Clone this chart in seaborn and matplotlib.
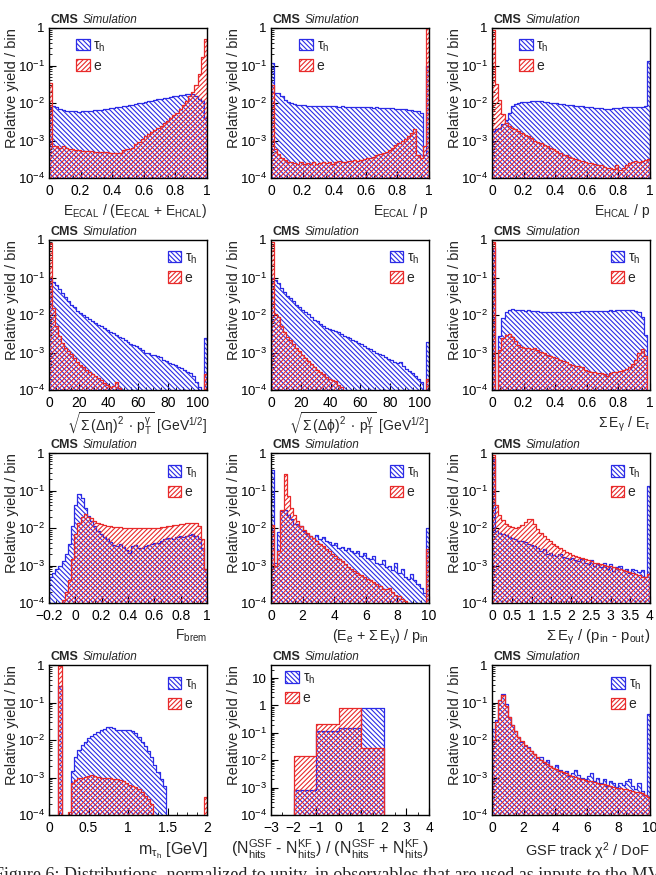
import numpy as np
import pandas as pd
import matplotlib
matplotlib.use('Agg')
import matplotlib.pyplot as plt
from matplotlib.patches import Patch
from matplotlib.ticker import FixedLocator, FuncFormatter, LogLocator, NullFormatter, AutoMinorLocator
import seaborn as sns

# ---- data: relative yield per bin (tau_h = blue, e = red) ----

# E_ECAL / (E_ECAL + E_HCAL), 50 bins in [0, 1]
ecalfrac_tau = [7.5e-3, 8.2e-3, 7.6e-3, 7.0e-3, 6.5e-3, 6.3e-3, 6.2e-3, 6.0e-3, 6.0e-3, 5.9e-3,
                6.0e-3, 6.1e-3, 6.2e-3, 6.3e-3, 6.4e-3, 6.5e-3, 6.7e-3, 6.9e-3, 7.1e-3, 7.3e-3,
                7.5e-3, 7.7e-3, 7.9e-3, 8.1e-3, 8.4e-3, 8.7e-3, 9.0e-3, 9.3e-3, 9.7e-3, 1.0e-2,
                1.05e-2, 1.1e-2, 1.15e-2, 1.2e-2, 1.25e-2, 1.3e-2, 1.35e-2, 1.4e-2, 1.45e-2, 1.5e-2,
                1.55e-2, 1.6e-2, 1.65e-2, 1.7e-2, 1.75e-2, 1.7e-2, 1.5e-2, 1.3e-2, 1.1e-2, 4e-3]
ecalfrac_e = [3.5e-2, 7e-4, 7e-4, 6.5e-4, 7e-4, 6.5e-4, 6e-4, 5.8e-4, 5.5e-4, 5.5e-4,
              5.3e-4, 5.2e-4, 5.3e-4, 5.1e-4, 5e-4, 5e-4, 4.9e-4, 4.8e-4, 4.8e-4, 4.7e-4,
              4.6e-4, 4.7e-4, 4.6e-4, 5.5e-4, 6e-4, 5.8e-4, 6.5e-4, 8e-4, 9e-4, 1.1e-3,
              1.3e-3, 1.5e-3, 1.7e-3, 1.9e-3, 2.2e-3, 2.5e-3, 2.9e-3, 3.3e-3, 3.9e-3, 4.8e-3,
              5.5e-3, 6.8e-3, 9e-3, 1.15e-2, 1.5e-2, 2e-2, 3e-2, 6e-2, 1.7e-1, 5e-1]

# E_ECAL / p
ecalp_tau = [1.2e-1, 1.8e-2, 1.9e-2, 1.5e-2, 1.2e-2, 1.05e-2, 9.8e-3, 9.2e-3, 9.0e-3, 8.8e-3,
             8.7e-3, 8.5e-3, 8.4e-3, 8.5e-3, 8.3e-3, 8.4e-3, 8.2e-3, 8.3e-3, 8.1e-3, 8.2e-3,
             8.1e-3, 8.0e-3, 8.2e-3, 8.0e-3, 7.9e-3, 8.0e-3, 7.8e-3, 7.9e-3, 7.7e-3, 7.8e-3,
             7.6e-3, 7.7e-3, 7.5e-3, 7.6e-3, 7.4e-3, 7.5e-3, 7.3e-3, 7.4e-3, 7.2e-3, 7.1e-3,
             7.0e-3, 6.9e-3, 6.8e-3, 6.6e-3, 6.5e-3, 6.3e-3, 6.1e-3, 5.5e-3, 4e-4, 1e-1]
ecalp_e = [3e-2, 6e-4, 4.5e-4, 3.5e-4, 3e-4, 2.7e-4, 2.6e-4, 2.5e-4, 2.4e-4, 2.6e-4,
           2.4e-4, 2.5e-4, 2.3e-4, 2.6e-4, 2.4e-4, 2.5e-4, 2.7e-4, 2.5e-4, 2.6e-4, 2.4e-4,
           2.6e-4, 2.8e-4, 2.6e-4, 2.7e-4, 2.9e-4, 2.8e-4, 3e-4, 2.9e-4, 3e-4, 3.2e-4,
           3.4e-4, 3.5e-4, 3.7e-4, 4e-4, 4.3e-4, 4.6e-4, 5e-4, 5.6e-4, 6.5e-4, 7.5e-4,
           8.5e-4, 1e-3, 1.1e-3, 1.3e-3, 1.6e-3, 2e-3, 4e-4, 3.5e-4, 7e-4, 1.0]

# E_HCAL / p
hcalp_tau = [1.8e-3, 2e-3, 2.2e-3, 2.8e-3, 3.5e-3, 5.5e-3, 8.3e-3, 9.5e-3, 1e-2, 1.05e-2,
             1.05e-2, 1.08e-2, 1.1e-2, 1.1e-2, 1.1e-2, 1.1e-2, 1.08e-2, 1.05e-2, 1.02e-2, 1e-2,
             9.7e-3, 9.5e-3, 9.3e-3, 9.1e-3, 8.9e-3, 8.6e-3, 8.5e-3, 8.3e-3, 8.2e-3, 8e-3,
             7.8e-3, 7.6e-3, 7.5e-3, 7.3e-3, 7.2e-3, 7e-3, 7e-3, 7.1e-3, 7.2e-3, 7.3e-3,
             7.5e-3, 7.6e-3, 7.7e-3, 7.8e-3, 7.8e-3, 7.9e-3, 8e-3, 8e-3, 8.1e-3, 1.3e-1]
hcalp_e = [9e-1, 3.2e-2, 1.2e-2, 5e-3, 3e-3, 2.5e-3, 2.2e-3, 2e-3, 1.8e-3, 1.6e-3,
           1.4e-3, 1.3e-3, 1.15e-3, 1e-3, 9e-4, 8.5e-4, 7.5e-4, 7e-4, 6.5e-4, 6e-4,
           5.2e-4, 4.6e-4, 4.2e-4, 4e-4, 3.7e-4, 3.5e-4, 3.3e-4, 3e-4, 2.9e-4, 2.7e-4,
           2.5e-4, 2.5e-4, 2.3e-4, 2.2e-4, 2.2e-4, 2e-4, 1.9e-4, 1.8e-4, 1.7e-4, 2.2e-4,
           1.6e-4, 1.9e-4, 2.2e-4, 2.5e-4, 2.6e-4, 2.8e-4, 2.7e-4, 2.8e-4, 3e-4, 3.2e-4]

# sqrt(sum (d eta)^2 pT), 53 bins of 2 GeV^1/2 (last one = overflow)
deta_tau = [9e-2, 7.5e-2, 6.5e-2, 5e-2, 3.8e-2, 3e-2, 2.4e-2, 1.9e-2, 1.6e-2, 1.3e-2,
            1.15e-2, 1e-2, 9e-3, 7.8e-3, 6.8e-3, 6e-3, 5.5e-3, 5.1e-3, 4.5e-3, 4e-3,
            3.6e-3, 3.3e-3, 2.9e-3, 2.6e-3, 2.4e-3, 2.2e-3, 1.9e-3, 1.7e-3, 1.6e-3, 1.45e-3,
            1.3e-3, 1.15e-3, 1e-3, 9.5e-4, 8.8e-4, 8.5e-4, 8e-4, 7.5e-4, 6.5e-4, 5.8e-4,
            5.4e-4, 5e-4, 4.6e-4, 4.2e-4, 3.8e-4, 3.5e-4, 3.1e-4, 2.8e-4, 2.4e-4, 1.6e-4,
            1.2e-4, 0, 2.4e-3]
deta_e = [8.5e-1, 1.5e-2, 5e-3, 2.8e-3, 1.8e-3, 1.35e-3, 1.1e-3, 9e-4, 7e-4, 5.6e-4,
          4.6e-4, 4e-4, 3.4e-4, 3e-4, 2.6e-4, 2.4e-4, 2.1e-4, 1.9e-4, 1.5e-4, 1.4e-4,
          1.2e-4, 1.3e-4, 1.6e-4, 1.1e-4, 8e-5, 7e-5, 6e-5, 5e-5, 4e-5, 3e-5,
          0, 0, 0, 0, 0, 0, 0, 0, 0, 0,
          0, 0, 0, 0, 0, 0, 0, 0, 0, 0,
          0, 0, 2.7e-4]

# sqrt(sum (d phi)^2 pT)
dphi_tau = [1e-1, 8.5e-2, 7e-2, 5.2e-2, 4e-2, 3.3e-2, 2.8e-2, 2.4e-2, 1.9e-2, 1.6e-2,
            1.4e-2, 1.2e-2, 1.05e-2, 9e-3, 7.5e-3, 6.8e-3, 5.8e-3, 5.2e-3, 4.6e-3, 4.3e-3,
            4e-3, 3.7e-3, 3.5e-3, 3.1e-3, 2.8e-3, 2.6e-3, 2.4e-3, 2.2e-3, 2e-3, 1.8e-3,
            1.7e-3, 1.5e-3, 1.35e-3, 1.25e-3, 1.1e-3, 1e-3, 9e-4, 8.5e-4, 7.5e-4, 6.8e-4,
            6.2e-4, 5.5e-4, 5.2e-4, 5.6e-4, 4.5e-4, 3.6e-4, 3.2e-4, 2.8e-4, 2.3e-4, 2e-4,
            1.6e-4, 0, 1.9e-3]
dphi_e = [9e-1, 1.05e-2, 8.6e-3, 5.2e-3, 3.5e-3, 2.6e-3, 2.1e-3, 1.7e-3, 1.35e-3, 1.1e-3,
          8.5e-4, 7.2e-4, 5.8e-4, 5e-4, 4.2e-4, 3.5e-4, 3.1e-4, 2.6e-4, 2.2e-4, 2e-4,
          1.8e-4, 1.7e-4, 1.4e-4, 1.2e-4, 8e-5, 6e-5, 5e-5, 4e-5, 3e-5, 0,
          0, 0, 0, 0, 0, 0, 0, 0, 0, 0,
          0, 0, 0, 0, 0, 0, 0, 0, 0, 0,
          0, 0, 2e-4]

# sum E_gamma / E_tau
egfrac_tau = [6e-1, 0, 2.8e-3, 8.5e-3, 1.2e-2, 1.4e-2, 1.45e-2, 1.4e-2, 1.4e-2, 1.35e-2,
              1.3e-2, 1.32e-2, 1.3e-2, 1.28e-2, 1.25e-2, 1.22e-2, 1.2e-2, 1.22e-2, 1.2e-2, 1.19e-2,
              1.2e-2, 1.18e-2, 1.19e-2, 1.2e-2, 1.19e-2, 1.21e-2, 1.2e-2, 1.22e-2, 1.24e-2, 1.26e-2,
              1.25e-2, 1.27e-2, 1.3e-2, 1.28e-2, 1.26e-2, 1.28e-2, 1.3e-2, 1.33e-2, 1.31e-2, 1.33e-2,
              1.36e-2, 1.34e-2, 1.33e-2, 1.35e-2, 1.33e-2, 1.3e-2, 1.2e-2, 9e-3, 3e-3, 0]
egfrac_e = [9e-1, 0, 1.2e-3, 2.5e-3, 3e-3, 3.1e-3, 2.6e-3, 2e-3, 1.6e-3, 1.4e-3,
            1.3e-3, 1.3e-3, 1.25e-3, 1.3e-3, 1.15e-3, 1.05e-3, 9.5e-4, 8.5e-4, 8e-4, 7.5e-4,
            7e-4, 6.5e-4, 6e-4, 5.5e-4, 5e-4, 4.6e-4, 4.5e-4, 4.3e-4, 4.2e-4, 3.5e-4,
            3.2e-4, 3e-4, 3e-4, 2.9e-4, 2.8e-4, 2.6e-4, 2.4e-4, 2.8e-4, 3e-4, 3.1e-4,
            3.2e-4, 3.4e-4, 3.6e-4, 4e-4, 5e-4, 6.5e-4, 1e-3, 1.25e-3, 8e-4, 0]

# F_brem, 50 bins in [-0.2, 1]
fbrem_tau = [5e-4, 6.5e-4, 8e-4, 9.5e-4, 1.3e-3, 2e-3, 3.8e-3, 1.1e-2, 4e-2, 8e-2,
             6.2e-2, 3.4e-2, 2.1e-2, 1.5e-2, 1.1e-2, 8.5e-3, 6.8e-3, 5.8e-3, 5e-3, 4.2e-3,
             3.5e-3, 3.3e-3, 3.8e-3, 3.2e-3, 2.6e-3, 2.2e-3, 3.3e-3, 3.5e-3, 3e-3, 2.9e-3,
             3.3e-3, 3.6e-3, 3.8e-3, 4e-3, 4.1e-3, 4.5e-3, 5e-3, 5.3e-3, 5.5e-3, 5.2e-3,
             5.8e-3, 6.2e-3, 5.9e-3, 6e-3, 6.5e-3, 6.8e-3, 6e-3, 5e-3, 3e-3, 8e-4]
fbrem_e = [0, 0, 5e-5, 9e-5, 1.2e-4, 2e-4, 4e-4, 1.5e-3, 7e-3, 1.4e-2,
           2e-2, 2.3e-2, 2e-2, 1.8e-2, 1.5e-2, 1.35e-2, 1.25e-2, 1.2e-2, 1.15e-2, 1.1e-2,
           1.08e-2, 1.06e-2, 1.04e-2, 1.02e-2, 1.01e-2, 1e-2, 9.9e-3, 9.8e-3, 9.7e-3, 9.7e-3,
           9.8e-3, 9.9e-3, 1e-2, 1.01e-2, 1.03e-2, 1.05e-2, 1.07e-2, 1.1e-2, 1.13e-2, 1.17e-2,
           1.2e-2, 1.25e-2, 1.3e-2, 1.33e-2, 1.37e-2, 1.4e-2, 1.35e-2, 1.1e-2, 5e-3, 8e-4]

# (E_e + sum E_gamma) / p_in, 50 bins in [0, 10]
eop_tau = [3.5e-1, 1.2e-3, 8e-3, 2.8e-2, 3e-2, 2.2e-2, 1.7e-2, 1.3e-2, 1.25e-2, 1.1e-2,
           8.5e-3, 7e-3, 6.2e-3, 5.5e-3, 6.5e-3, 5.2e-3, 5.8e-3, 4.6e-3, 4.2e-3, 3.5e-3,
           4e-3, 3e-3, 3.2e-3, 2.6e-3, 3e-3, 2.4e-3, 2.2e-3, 2.5e-3, 1.8e-3, 2.2e-3,
           1.6e-3, 1.5e-3, 1.8e-3, 1.2e-3, 1.1e-3, 1.4e-3, 9e-4, 1e-3, 7.5e-4, 1.2e-3,
           6.5e-4, 8e-4, 5e-4, 4.5e-4, 6e-4, 4e-4, 3.2e-4, 2.5e-4, 1.8e-4, 1e-2]
eop_e = [1.2e-2, 9.5e-4, 2.5e-3, 3e-2, 2.8e-1, 7e-2, 3.5e-2, 2.2e-2, 1.5e-2, 1.15e-2,
         9e-3, 7.5e-3, 6.3e-3, 5.3e-3, 4.5e-3, 3.8e-3, 3.3e-3, 2.8e-3, 2.4e-3, 2e-3,
         1.8e-3, 1.5e-3, 1.3e-3, 1.1e-3, 9e-4, 8e-4, 7e-4, 6.3e-4, 5.5e-4, 5e-4,
         4.5e-4, 4e-4, 3.6e-4, 3.2e-4, 2.8e-4, 2.4e-4, 2.3e-4, 2.5e-4, 2e-4, 1.6e-4,
         1.5e-4, 1.3e-4, 1.1e-4, 1e-4, 9e-5, 8e-5, 7e-5, 6e-5, 5e-5, 2.7e-3]

# sum E_gamma / (p_in - p_out), 50 bins in [0, 4]
egdp_tau = [7e-1, 8.5e-3, 7.5e-3, 7e-3, 6.5e-3, 5.8e-3, 5.5e-3, 5e-3, 4.5e-3, 4.6e-3,
            4.2e-3, 3.8e-3, 3.5e-3, 3.4e-3, 3e-3, 2.5e-3, 2.8e-3, 2e-3, 2.2e-3, 1.9e-3,
            1.8e-3, 2e-3, 1.7e-3, 1.6e-3, 1.5e-3, 1.6e-3, 1.4e-3, 1.3e-3, 1.5e-3, 1.2e-3,
            1.1e-3, 1.4e-3, 1e-3, 1.1e-3, 9e-4, 1.2e-3, 8e-4, 1.1e-3, 7e-4, 9e-4,
            1e-3, 7.5e-4, 8e-4, 6.5e-4, 8e-4, 7.5e-4, 6.8e-4, 7.5e-4, 5e-4, 1.3e-1]
egdp_e = [9e-1, 4e-2, 2.2e-2, 1.6e-2, 1.3e-2, 1.15e-2, 1.05e-2, 1e-2, 1.05e-2, 1.2e-2,
          1.45e-2, 1.75e-2, 1.7e-2, 1.3e-2, 9.5e-3, 7.5e-3, 6e-3, 5e-3, 4.4e-3, 3.8e-3,
          3.3e-3, 2.9e-3, 2.6e-3, 2.3e-3, 2.1e-3, 1.95e-3, 1.8e-3, 1.65e-3, 1.55e-3, 1.45e-3,
          1.4e-3, 1.3e-3, 1.2e-3, 1.15e-3, 1.1e-3, 1.05e-3, 1e-3, 9.5e-4, 9e-4, 8.5e-4,
          8e-4, 7.5e-4, 7.2e-4, 6.8e-4, 6.5e-4, 6e-4, 5.5e-4, 5e-4, 4.8e-4, 6e-4]

# m_tau_h [GeV], 50 bins in [0, 2]
mtau_tau = [0, 0, 0, 2.8e-1, 0, 0, 0, 1.5e-3, 3.5e-3, 5.5e-3,
            7.5e-3, 9e-3, 1.1e-2, 1.3e-2, 1.45e-2, 1.65e-2, 1.8e-2, 2e-2, 2.2e-2, 2.2e-2,
            2.1e-2, 1.9e-2, 1.9e-2, 1.9e-2, 1.85e-2, 1.8e-2, 1.7e-2, 1.55e-2, 1.2e-2, 9e-3,
            7e-3, 5e-3, 3.5e-3, 2.2e-3, 1.4e-3, 9e-4, 6e-4, 0, 0, 0,
            0, 0, 0, 0, 0, 0, 0, 0, 0, 0]
mtau_e = [0, 0, 0, 9.5e-1, 0, 0, 1.2e-4, 7e-4, 8.5e-4, 9.5e-4,
          1e-3, 1.05e-3, 1.1e-3, 1.15e-3, 1.1e-3, 1.05e-3, 1e-3, 1e-3, 9.5e-4, 9.5e-4,
          9e-4, 9.2e-4, 8.5e-4, 8e-4, 7e-4, 6.5e-4, 6e-4, 5.5e-4, 4.8e-4, 4e-4,
          3.3e-4, 2.7e-4, 2e-4, 0, 0, 0, 0, 0, 0, 0,
          0, 0, 0, 0, 0, 0, 0, 0, 0, 3e-4]

# (N_GSF - N_KF) / (N_GSF + N_KF), unit bins in [-3, 4]
nhits_tau = [0, 8e-4, 1.2e-1, 1.5e-1, 8e-1, 0, 0]
nhits_e = [0, 1.4e-2, 2.1e-1, 8e-1, 2.8e-2, 0, 0]

# GSF track chi2 / DoF, 50 bins in [0, 10]
chi2_tau = [2e-2, 3.5e-2, 1.2e-1, 1.7e-1, 9e-2, 4e-2, 2.5e-2, 1.7e-2, 1.2e-2, 9e-3,
            7e-3, 6.5e-3, 5e-3, 4.2e-3, 3.4e-3, 3.6e-3, 2.5e-3, 3e-3, 2e-3, 1.8e-3,
            2.2e-3, 1.6e-3, 1.3e-3, 1.5e-3, 1.1e-3, 1.3e-3, 1.6e-3, 1.2e-3, 1e-3, 9e-4,
            1.1e-3, 1.3e-3, 8e-4, 1e-3, 7e-4, 9e-4, 6e-4, 8e-4, 7e-4, 5.5e-4,
            7e-4, 6.5e-4, 8e-4, 9e-4, 6e-4, 5e-4, 7e-4, 4.5e-4, 3.5e-4, 5e-2]
chi2_e = [1e-2, 3e-2, 1.2e-1, 1.6e-1, 8e-2, 4e-2, 2.5e-2, 1.7e-2, 1.2e-2, 9.5e-3,
          7.5e-3, 6e-3, 5e-3, 4.2e-3, 3.5e-3, 3e-3, 2.6e-3, 2.3e-3, 2e-3, 1.8e-3,
          1.65e-3, 1.5e-3, 1.4e-3, 1.3e-3, 1.2e-3, 1.1e-3, 1.05e-3, 1e-3, 9.3e-4, 8.8e-4,
          8.3e-4, 8e-4, 7.6e-4, 7.2e-4, 6.9e-4, 6.6e-4, 6.3e-4, 6e-4, 5.7e-4, 5.4e-4,
          5.2e-4, 5e-4, 4.8e-4, 4.6e-4, 4.4e-4, 4.2e-4, 4e-4, 3.8e-4, 3.5e-4, 3e-4]

# ---- style ----
sns.set_theme(style='ticks')
plt.rcParams['font.family'] = ['Liberation Sans', 'DejaVu Sans']
plt.rcParams['mathtext.default'] = 'regular'
plt.rcParams['hatch.linewidth'] = 0.8
plt.rcParams['axes.edgecolor'] = 'black'
plt.rcParams['axes.linewidth'] = 1.0

BLUE = '#2b2be6'
RED = '#e82a2a'
HATCH_TAU = '\\' * 7
HATCH_E = '/' * 7

panels = [
    dict(edges=np.linspace(0, 1, 51), tau=ecalfrac_tau, e=ecalfrac_e, xlim=(0, 1),
         xticks=[0, 0.2, 0.4, 0.6, 0.8, 1], fs=10,
         xlabel='$E_{ECAL}$ / ($E_{ECAL}$ + $E_{HCAL}$)', leg=(0.17, 0.93), pad=3),
    dict(edges=np.linspace(0, 1, 51), tau=ecalp_tau, e=ecalp_e, xlim=(0, 1),
         xticks=[0, 0.2, 0.4, 0.6, 0.8, 1], fs=10,
         xlabel='$E_{ECAL}$ / p', leg=(0.18, 0.93), pad=3),
    dict(edges=np.linspace(0, 1, 51), tau=hcalp_tau, e=hcalp_e, xlim=(0, 1),
         xticks=[0, 0.2, 0.4, 0.6, 0.8, 1], fs=10,
         xlabel='$E_{HCAL}$ / p', leg=(0.17, 0.93), pad=3),
    dict(edges=np.arange(0, 107, 2), tau=deta_tau, e=deta_e, xlim=(0, 106),
         xticks=[0, 20, 40, 60, 80, 100], fs=10,
         xlabel=r'$\sqrt{\Sigma\,(\Delta\eta)^{2}\,\cdot\,p_{T}^{\gamma}}$ [GeV$^{1/2}$]',
         leg=(0.75, 0.93), pad=0.5),
    dict(edges=np.arange(0, 107, 2), tau=dphi_tau, e=dphi_e, xlim=(0, 106),
         xticks=[0, 20, 40, 60, 80, 100], fs=10,
         xlabel=r'$\sqrt{\Sigma\,(\Delta\phi)^{2}\,\cdot\,p_{T}^{\gamma}}$ [GeV$^{1/2}$]',
         leg=(0.75, 0.93), pad=0.5),
    dict(edges=np.linspace(0, 1, 51), tau=egfrac_tau, e=egfrac_e, xlim=(0, 1),
         xticks=[0, 0.2, 0.4, 0.6, 0.8, 1], fs=10,
         xlabel=r'$\Sigma\,E_{\gamma}$ / $E_{\tau}$', leg=(0.75, 0.93), pad=3),
    dict(edges=np.linspace(-0.2, 1, 51), tau=fbrem_tau, e=fbrem_e, xlim=(-0.2, 1),
         xticks=[-0.2, 0, 0.2, 0.4, 0.6, 0.8, 1], fs=10,
         xlabel='$F_{brem}$', leg=(0.75, 0.92), pad=3),
    dict(edges=np.linspace(0, 10, 51), tau=eop_tau, e=eop_e, xlim=(0, 10),
         xticks=[0, 2, 4, 6, 8, 10], fs=10.3,
         xlabel=r'($E_{e}$ + $\Sigma\,E_{\gamma}$) / $p_{in}$', leg=(0.75, 0.92), pad=3),
    dict(edges=np.linspace(0, 4, 51), tau=egdp_tau, e=egdp_e, xlim=(0, 4),
         xticks=[0, 0.5, 1, 1.5, 2, 2.5, 3, 3.5, 4], fs=10.7,
         xlabel=r'$\Sigma\,E_{\gamma}$ / ($p_{in}$ - $p_{out}$)', leg=(0.75, 0.92), pad=3),
    dict(edges=np.linspace(0, 2, 51), tau=mtau_tau, e=mtau_e, xlim=(0, 2),
         xticks=[0, 0.5, 1, 1.5, 2], fs=11.5,
         xlabel=r'$m_{\tau_{h}}$ [GeV]', leg=(0.75, 0.92), pad=4),
    dict(edges=np.arange(-3, 5), tau=nhits_tau, e=nhits_e, xlim=(-3, 4),
         xticks=[-3, -2, -1, 0, 1, 2, 3, 4], fs=11.5,
         xlabel='($N^{GSF}_{hits}$ - $N^{KF}_{hits}$) / ($N^{GSF}_{hits}$ + $N^{KF}_{hits}$)',
         leg=(0.09, 0.96), pad=2, ymax=30),
    dict(edges=np.linspace(0, 10, 51), tau=chi2_tau, e=chi2_e, xlim=(0, 10),
         xticks=[0, 2, 4, 6, 8, 10], fs=10.5,
         xlabel=r'GSF track $\chi^{2}$ / DoF', leg=(0.755, 0.92), pad=4),
]


def fmt_x(v, pos):
    if abs(v) < 1e-9:
        return '0'
    return f'{v:g}'.replace('-', '\u2212')


def fmt_y(v, pos):
    p = int(round(np.log10(v)))
    if p == 0:
        return '1'
    if p == 1:
        return '10'
    return f'$10^{{{p}}}$'


W, H = 656, 875
col_left = [49, 271, 492]
row_top = [28, 240, 453, 665]
aw, ah = 158, 150

fig = plt.figure(figsize=(W / 100, H / 100), dpi=100)

for k, p in enumerate(panels):
    r, c = divmod(k, 3)
    ax = fig.add_axes([col_left[c] / W, 1 - (row_top[r] + ah) / H, aw / W, ah / H])
    edges = [float(b) for b in p['edges']]
    centers = [0.5 * (a + b) for a, b in zip(edges[:-1], edges[1:])]

    for vals, color, hatch in [(p['tau'], BLUE, HATCH_TAU), (p['e'], RED, HATCH_E)]:
        df = pd.DataFrame({'x': centers, 'w': vals})
        with plt.rc_context({'hatch.color': color}):
            sns.histplot(data=df, x='x', weights='w', bins=edges, element='step', fill=True,
                         color=color, alpha=1, linewidth=0.9, ax=ax)
        poly = ax.collections[-1]
        poly.set_facecolor('none')
        poly.set_edgecolor(color)
        poly.set_hatch(hatch)
        poly.set_linewidth(0.9)

    ax.set_yscale('log')
    ax.set_ylim(1e-4, p.get('ymax', 1))
    ax.set_xlim(*p['xlim'])
    ax.yaxis.set_major_locator(LogLocator(base=10, numticks=20))
    ax.yaxis.set_minor_locator(LogLocator(base=10, subs=np.arange(2, 10), numticks=20))
    ax.yaxis.set_major_formatter(FuncFormatter(fmt_y))
    ax.yaxis.set_minor_formatter(NullFormatter())
    ax.xaxis.set_major_locator(FixedLocator(p['xticks']))
    ax.xaxis.set_minor_locator(AutoMinorLocator(4 if k != 10 else 2))
    ax.xaxis.set_major_formatter(FuncFormatter(fmt_x))
    ax.tick_params(which='both', direction='in', top=False, right=False, colors='black')
    ax.tick_params(axis='x', labelsize=10, pad=4.5)
    ax.tick_params(axis='y', labelsize=9.5, pad=3)
    ax.tick_params(which='major', length=5, width=0.8)
    ax.tick_params(which='minor', length=2.5, width=0.6)

    ax.set_xlabel(p['xlabel'], loc='right', fontsize=p['fs'], labelpad=p['pad'])
    ax.set_ylabel('Relative yield / bin', loc='top', fontsize=10.5)
    ax.yaxis.set_label_coords(-0.19, 1.0)

    cms = ax.text(0.01, 1.012, 'CMS', transform=ax.transAxes, fontsize=9,
                  fontweight='bold', ha='left', va='bottom')
    ax.annotate('Simulation', xy=(1, 0), xycoords=cms, xytext=(3, 0),
                textcoords='offset points', fontsize=8.5, style='italic',
                ha='left', va='bottom')

    handles = [Patch(facecolor='none', edgecolor=BLUE, hatch=HATCH_TAU, linewidth=0.9),
               Patch(facecolor='none', edgecolor=RED, hatch=HATCH_E, linewidth=0.9)]
    ax.legend(handles, ['τ$_{h}$', 'e'], loc='upper left', bbox_to_anchor=p['leg'],
              frameon=False, fontsize=10, handlelength=1.0, handleheight=0.9,
              handletextpad=0.25, labelspacing=0.35, borderpad=0, borderaxespad=0)

fig.text(-6 / W, -5 / H,
         'Figure 6: Distributions, normalized to unity, in observables that are used as inputs to the MVA',
         family='Liberation Serif', fontsize=13, ha='left', va='baseline')

fig.savefig('out.png', dpi=100)
